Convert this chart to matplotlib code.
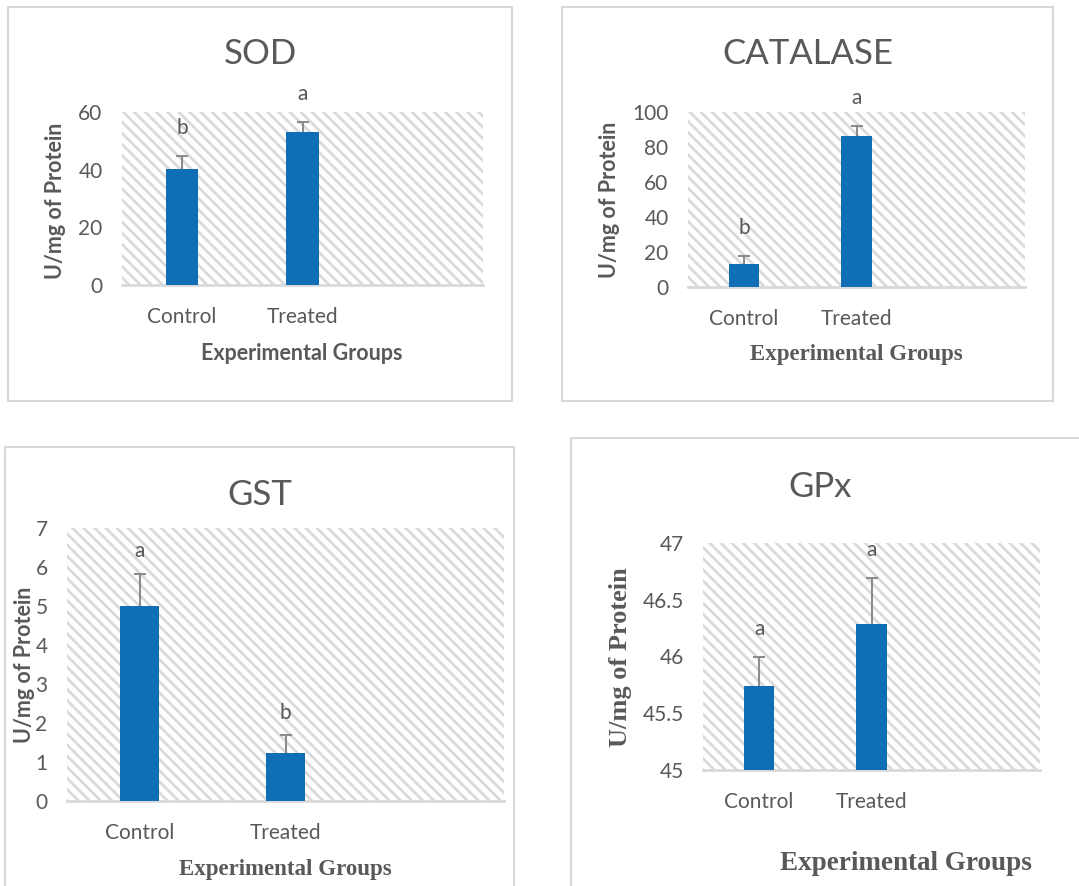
import numpy as np
import matplotlib
matplotlib.use("Agg")
import matplotlib.pyplot as plt
from matplotlib.patches import Rectangle
from matplotlib.ticker import FuncFormatter

# Datos
grupos = ["Control", "Treated"]

sod_media = [40.2, 53.2]
sod_error = [4.7, 3.3]
sod_letras = ["b", "a"]

cat_media = [13.1, 86.3]
cat_error = [4.6, 5.7]
cat_letras = ["b", "a"]

gst_media = [5.0, 1.22]
gst_error = [0.83, 0.47]
gst_letras = ["a", "b"]

gpx_media = [45.74, 46.29]
gpx_error = [0.26, 0.40]
gpx_letras = ["a", "a"]

W, H = 1079, 886
GRIS = "#595959"
AZUL = "#106EB6"
plt.rcParams["hatch.color"] = "#dadada"
plt.rcParams["hatch.linewidth"] = 2.0

fig = plt.figure(figsize=(W / 100, H / 100), dpi=100)


def px(x, y):
    return x / W, 1 - y / H


def marco(x0, y0, x1, y1):
    fig.add_artist(Rectangle((x0 / W, 1 - y1 / H), (x1 - x0) / W, (y1 - y0) / H,
                             transform=fig.transFigure, fill=False,
                             edgecolor="#d9d9d9", linewidth=1.5))


def panel(caja, media, error, letras, ylim, paso, titulo, tpos, ylab, ypos, yfam,
          xlab, xpos, xfam, xsize, ysize, off=20):
    x0, y0, x1, y1 = caja
    ax = fig.add_axes([x0 / W, 1 - y1 / H, (x1 - x0) / W, (y1 - y0) / H])
    ax.patch.set_facecolor("white")
    ax.patch.set_hatch("\\\\\\")
    ax.patch.set_edgecolor("#dadada")
    ax.patch.set_linewidth(0)
    pos = np.arange(len(grupos))
    eb = ax.errorbar(pos, media, yerr=[np.zeros(len(error)), error], fmt="none",
                     ecolor="#8c8c8c", elinewidth=1.5, capsize=4, capthick=1.5, zorder=2)
    eb[1][0].set_visible(False)  # sin tapa inferior
    ax.bar(pos, media, width=0.27, color=AZUL, zorder=3)
    for i, l in enumerate(letras):
        ax.annotate(l, (pos[i], media[i] + error[i]), xytext=(0, off),
                    textcoords="offset points", ha="center", va="center",
                    fontsize=15, color=GRIS, family="Lato", annotation_clip=False)
    ax.set_xlim(-0.5, 2.5)
    ax.set_ylim(*ylim)
    ax.set_yticks(np.arange(ylim[0], ylim[1] + paso / 2, paso))
    ax.yaxis.set_major_formatter(FuncFormatter(lambda v, p: f"{v:g}"))
    ax.set_xticks(pos)
    ax.set_xticklabels(grupos)
    for s in ["top", "right", "left"]:
        ax.spines[s].set_visible(False)
    ax.spines["bottom"].set_color("#d9d9d9")
    ax.spines["bottom"].set_linewidth(2)
    ax.tick_params(axis="y", length=0, pad=14, labelsize=15, labelcolor=GRIS)
    ax.tick_params(axis="x", length=0, pad=16, labelsize=15, labelcolor=GRIS)
    for t in ax.get_xticklabels() + ax.get_yticklabels():
        t.set_family("Lato")
    fig.text(*px(*tpos), titulo, ha="center", va="center", fontsize=25,
             color=GRIS, family="Lato")
    fig.text(*px(*ypos), ylab, ha="center", va="center", rotation=90,
             fontsize=ysize, fontweight="bold", color=GRIS, family=yfam)
    fig.text(*px(*xpos), xlab, ha="center", va="center", fontsize=xsize,
             fontweight="bold", color=GRIS, family=xfam)
    return ax


marco(8, 7, 512, 401)
marco(562, 7, 1053, 401)
marco(5, 447, 514, 900)
marco(571, 438, 1090, 900)

panel((122, 112, 483, 285), sod_media, sod_error, sod_letras, (0, 60), 20,
      "SOD", (260, 54), "U/mg of Protein", (55, 201), "Lato",
      "Experimental Groups", (302, 354), "Lato", 15.5, 15.5)
panel((688, 112, 1025, 287), cat_media, cat_error, cat_letras, (0, 100), 20,
      "CATALASE", (808, 54), "U/mg of Protein", (610, 200), "Lato",
      "Experimental Groups", (856, 355), "Liberation Serif", 16.5, 15.5)
panel((67, 528, 504, 801), gst_media, gst_error, gst_letras, (0, 7), 1,
      "GST", (260, 495), "U/mg of Protein", (25, 665), "Lato",
      "Experimental Groups", (285, 870), "Liberation Serif", 16.5, 15.5, off=16)
panel((703, 543, 1040, 770), gpx_media, gpx_error, gpx_letras, (45, 47), 0.5,
      "GPx", (820, 487), "U/mg of Protein", (620, 657), "Liberation Serif",
      "Experimental Groups", (906, 863), "Liberation Serif", 19.5, 19)

fig.savefig("out.png", dpi=100)
